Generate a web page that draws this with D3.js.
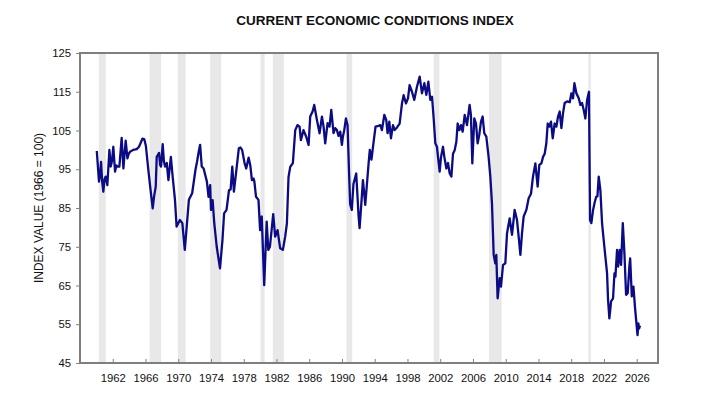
<!DOCTYPE html>
<html>
<head>
<meta charset="utf-8">
<script src="https://cdn.jsdelivr.net/npm/d3@7"></script>
<style>
  body { margin: 0; background: #fff; }
  svg { font-family: "Liberation Sans", Arial, sans-serif; }
  .axis-title { font-size: 12px; fill: #111; }
  .tick text { font-size: 11.3px; fill: #111; }
</style>
</head>
<body>
<svg id="cci" width="707" height="407"></svg>
<script>
const width = 707;
const height = 407;

/* DATA */
const dates = [
  1960.05, 1960.32, 1960.45, 1960.57, 1960.7, 1960.85, 1961.0, 1961.14, 1961.34, 1961.59, 1961.75, 1961.9,
  1962.07, 1962.28, 1962.45, 1962.56, 1962.81, 1963.09, 1963.3, 1963.58, 1963.79, 1963.95, 1964.11, 1964.5,
  1964.93, 1965.21, 1965.45, 1965.62, 1965.86, 1966.05, 1966.35, 1966.6, 1966.88, 1967.05, 1967.25, 1967.37,
  1967.66, 1967.78, 1967.9, 1968.1, 1968.25, 1968.39, 1968.6, 1968.8, 1969.1, 1969.3, 1969.6, 1969.8,
  1970.2, 1970.5, 1970.8, 1971.0, 1971.3, 1971.7, 1972.1, 1972.3, 1972.5, 1972.67, 1972.87, 1973.1,
  1973.5, 1973.7, 1973.9, 1974.0, 1974.2, 1974.4, 1974.7, 1975.1, 1975.4, 1975.6, 1975.9, 1976.2,
  1976.4, 1976.6, 1976.8, 1977.1, 1977.4, 1977.6, 1977.8, 1978.1, 1978.3, 1978.6, 1978.8, 1979.0,
  1979.2, 1979.3, 1979.5, 1979.8, 1980.0, 1980.2, 1980.5, 1980.8, 1981.0, 1981.2, 1981.6, 1981.84,
  1982.13, 1982.45, 1982.78, 1983.06, 1983.27, 1983.47, 1983.68, 1984.0, 1984.29, 1984.57, 1984.82, 1984.98,
  1985.3, 1985.63, 1985.92, 1986.12, 1986.41, 1986.61, 1986.94, 1987.26, 1987.55, 1987.75, 1987.95, 1988.24,
  1988.48, 1988.69, 1988.97, 1989.18, 1989.38, 1989.58, 1989.79, 1989.99, 1990.11, 1990.28, 1990.48, 1990.68,
  1990.85, 1991.0, 1991.2, 1991.4, 1991.74, 1992.03, 1992.15, 1992.31, 1992.56, 1992.84, 1993.05, 1993.25,
  1993.4, 1993.6, 1993.86, 1994.1, 1994.47, 1994.68, 1994.88, 1995.17, 1995.41, 1995.57, 1995.78, 1995.98,
  1996.23, 1996.43, 1996.72, 1997.04, 1997.33, 1997.53, 1997.82, 1998.06, 1998.26, 1998.55, 1998.83, 1999.16,
  1999.49, 1999.77, 2000.06, 2000.3, 2000.55, 2000.79, 2001.0, 2001.2, 2001.4, 2001.6, 2001.73, 2001.93,
  2002.1, 2002.34, 2002.5, 2002.75, 2002.95, 2003.15, 2003.36, 2003.56, 2003.76, 2003.97, 2004.13, 2004.34,
  2004.54, 2004.74, 2004.99, 2005.27, 2005.59, 2005.75, 2005.92, 2006.16, 2006.37, 2006.57, 2006.77, 2006.98,
  2007.18, 2007.38, 2007.63, 2007.91, 2008.12, 2008.32, 2008.53, 2008.73, 2008.85, 2009.01, 2009.26, 2009.42,
  2009.67, 2009.95, 2010.16, 2010.48, 2010.77, 2011.09, 2011.38, 2011.58, 2011.79, 2011.99, 2012.19, 2012.52,
  2012.8, 2013.09, 2013.33, 2013.62, 2013.9, 2014.1, 2014.35, 2014.56, 2014.76, 2014.96, 2015.13, 2015.33,
  2015.53, 2015.74, 2015.98, 2016.19, 2016.39, 2016.59, 2016.8, 2017.0, 2017.2, 2017.49, 2017.82, 2018.02,
  2018.22, 2018.39, 2018.63, 2018.92, 2019.12, 2019.32, 2019.53, 2019.73, 2019.94, 2020.17, 2020.3, 2020.46,
  2020.67, 2020.87, 2021.05, 2021.2, 2021.36, 2021.56, 2021.77, 2022.05, 2022.38, 2022.5, 2022.66, 2022.87,
  2023.11, 2023.28, 2023.4, 2023.6, 2023.73, 2023.93, 2024.09, 2024.3, 2024.5, 2024.7, 2024.9, 2025.1,
  2025.2, 2025.4, 2025.6, 2025.8, 2026.1, 2026.2, 2026.3, 2026.4
];

const indexValues = [
  99.7, 91.8, 93.5, 96.9, 92, 89.2, 92.5, 93.1, 90.9, 100, 95.7, 97,
  100.8, 94.4, 96, 95.7, 95.7, 103.1, 95.2, 102.4, 97.8, 99, 99.5, 100,
  100.2, 100.8, 102, 102.9, 102.7, 101, 94.8, 90, 84.9, 88, 90.5, 98.2,
  99.2, 96.1, 95.7, 101.5, 97, 95.7, 96.6, 92.2, 98.2, 93.5, 87.1, 80.2,
  81.9, 81.1, 74.2, 79.3, 87.1, 88.8, 94.8, 97, 99.5, 101.3, 95.7, 95.2,
  91.8, 87.9, 90.9, 84.5, 87, 81.1, 75, 69.4, 76.7, 83.6, 84.5, 89.6,
  89.8, 95.7, 89.2, 94.8, 100.4, 100.6, 100, 96.6, 95.2, 98, 96, 92.2,
  92.6, 91.8, 87.9, 87.1, 79.3, 82.8, 65.1, 81.5, 74.2, 75, 83.4, 77.6,
  79.3, 74.6, 74.2, 77.6, 81, 93, 95.6, 96.6, 105.1, 106.4, 106, 102.5,
  105.1, 103.4, 101.3, 108.6, 109.9, 111.6, 107.7, 104.3, 108.6, 106, 101.7, 106.9,
  106, 110.3, 104.3, 105.6, 105.1, 103.6, 104.7, 101.3, 103.4, 105.1, 108.1, 106.4,
  95, 86, 84.5, 91.2, 93.9, 82.8, 79.8, 84.5, 92.2, 85.8, 91.2, 96.5,
  100, 97.5, 102, 106, 106.2, 106.4, 105.1, 109, 107.7, 104.3, 107.3, 103,
  106.4, 105.1, 105.8, 106.8, 112, 114.1, 112, 113.3, 116.7, 115, 112.9, 116.3,
  118.9, 114.6, 117.2, 114.2, 117.6, 112.9, 113.7, 108.1, 101.7, 100.8, 98.2, 94.4,
  98.2, 100.8, 98.2, 95.2, 96.6, 94, 93.1, 99, 99.9, 102.1, 106.8, 105.1,
  106.4, 104.7, 109, 106.4, 111.6, 109, 96.5, 108.1, 106.8, 101.7, 103.9, 107.3,
  108.6, 104.3, 103.4, 98.2, 93.1, 86.2, 72.9, 70.7, 72.9, 61.7, 66.9, 64.7,
  70.3, 70.7, 78.5, 82.3, 78.1, 84.5, 81.9, 77.6, 72.9, 78.5, 82.8, 84.5,
  87.5, 88.7, 93.1, 96.5, 90.5, 96.1, 96.5, 98.2, 99, 101.7, 106.8, 106,
  107.3, 103, 106.8, 106, 108.6, 109.9, 105.6, 109.5, 112.1, 112.5, 112.3, 114.6,
  113.3, 117.2, 114.6, 113.3, 111.6, 112.1, 110.3, 108.1, 112.9, 115, 81.9, 81.1,
  84.5, 86.5, 87.9, 88, 93.1, 89.6, 81, 75, 68.1, 61.3, 56.5, 60.9,
  61.7, 68.1, 67.3, 74.2, 69.9, 74.2, 70.3, 81.1, 73.3, 62.6, 63, 69.9,
  72, 62.2, 64.7, 59.1, 52.2, 55.2, 53.9, 54.7
];

// shaded periods (start, end) in decimal years
const recessionStarts = [1960.3, 1966.5, 1969.95, 1973.9, 1980.05, 1981.55, 1990.55, 2001.2, 2007.95, 2020.1];
const recessionEnds   = [1961.15, 1967.9, 1970.9, 1975.25, 1980.55, 1982.9, 1991.25, 2001.9, 2009.5, 2020.4];

const yTicks = [45, 55, 65, 75, 85, 95, 105, 115, 125];
const xTicks = [1962, 1966, 1970, 1974, 1978, 1982, 1986, 1990, 1994, 1998, 2002, 2006, 2010, 2014, 2018, 2022, 2026];

const margin = {
  top: 53,
  bottom: 44,
  left: 80,
  right: 49
};

const plotWidth = width - margin.left - margin.right;
const plotHeight = height - margin.top - margin.bottom;

const svg = d3.select("svg#cci");
const plot = svg.append("g").attr("transform", translate(margin.left, margin.top));

/* SCALES */
const x = d3.scaleLinear().domain([1958, 2028.6]).range([0, plotWidth]);
const y = d3.scaleLinear().domain([45, 125]).range([plotHeight, 0]);

/* RECESSION BANDS */
plot.selectAll("rect.band")
  .data(recessionStarts.map((s, i) => [s, recessionEnds[i]]))
  .enter()
  .append("rect")
  .attr("class", "band")
  .attr("x", d => x(d[0]))
  .attr("y", 0)
  .attr("width", d => x(d[1]) - x(d[0]))
  .attr("height", plotHeight)
  .attr("fill", "#e8e8e8");

/* AXES */
const yAxis = d3.axisLeft(y).tickValues(yTicks).tickSize(4).tickPadding(5).tickSizeOuter(0);
const xAxis = d3.axisBottom(x).tickValues(xTicks).tickFormat(d3.format("d")).tickSize(-4).tickPadding(11).tickSizeOuter(0);

const yGroup = plot.append("g").attr("class", "axis").call(yAxis);
const xGroup = plot.append("g").attr("class", "axis")
  .attr("transform", translate(0, plotHeight))
  .call(xAxis);

[yGroup, xGroup].forEach(g => {
  g.select(".domain").remove();
  g.selectAll(".tick line").attr("stroke", "#808080");
});

// frame round the plot
plot.append("rect")
  .attr("x", 0)
  .attr("y", 0)
  .attr("width", plotWidth)
  .attr("height", plotHeight)
  .attr("fill", "none")
  .attr("stroke", "#7f7f7f")
  .attr("stroke-width", 2);

/* LINE */
const series = dates.map((d, i) => ({ date: d, value: indexValues[i] }));

const line = d3.line()
  .x(d => x(d.date))
  .y(d => y(d.value));

plot.append("path")
  .datum(series)
  .attr("fill", "none")
  .attr("stroke", "#0b0b86")
  .attr("stroke-width", 2.3)
  .attr("stroke-linejoin", "round")
  .attr("d", line);

/* TITLES */
svg.append("text")
  .attr("x", 375)
  .attr("y", 25)
  .attr("text-anchor", "middle")
  .style("font-size", "13.5px")
  .style("font-weight", "bold")
  .attr("fill", "#111")
  .text("CURRENT ECONOMIC CONDITIONS INDEX");

const yTitleGroup = svg.append("g").attr("transform", translate(39, margin.top + plotHeight / 2));
yTitleGroup.append("text")
  .attr("class", "axis-title")
  .attr("text-anchor", "middle")
  .attr("dy", "0.35em")
  .attr("transform", "rotate(-90)")
  .text("INDEX VALUE (1966 = 100)");

function translate(x, y) {
  return "translate(" + String(x) + "," + String(y) + ")";
}
</script>
</body>
</html>
